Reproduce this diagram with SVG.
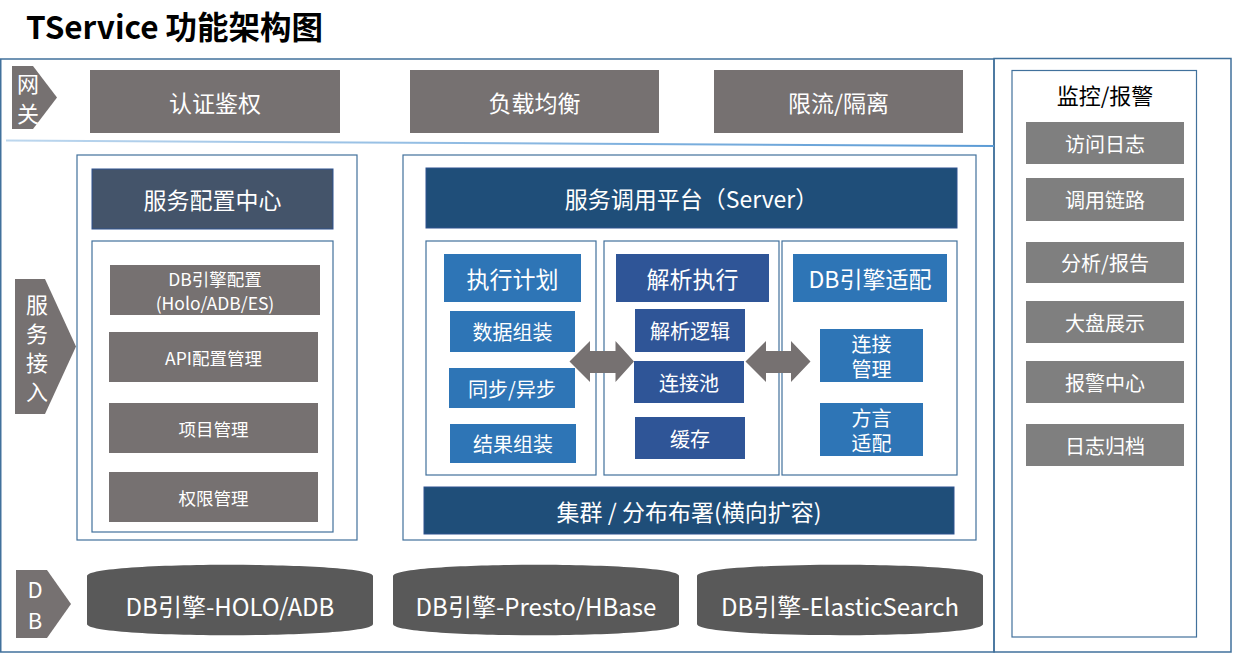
<svg xmlns="http://www.w3.org/2000/svg" width="1233" height="653" viewBox="0 0 1233 653">
<style>
text{font-family:"Noto Sans CJK SC","Noto Sans",sans-serif;text-anchor:middle;dominant-baseline:central;fill:#fff}
.frame{fill:none;stroke:#41719C;stroke-width:1.5}
.thin{fill:none;stroke:#41719C;stroke-width:1.2}
.gray{fill:#767171}
.rgray{fill:#7F7F7F}
.slate{fill:#44546A;stroke:#2F528F;stroke-width:1}
.navy{fill:#1F4E79;stroke:#2F528F;stroke-width:1}
.blue{fill:#2E75B6}
.dblue{fill:#2F5597}
.cyl{fill:#595959}
.t24{font-size:23px}
.t21{font-size:20px}
.t18{font-size:17.5px}
.tc{font-size:24px}
</style>
<defs>
<linearGradient id="sep" x1="0" y1="0" x2="1" y2="0">
<stop offset="0" stop-color="#BDD7EE"/>
<stop offset="1" stop-color="#5B9BD5"/>
</linearGradient>
</defs>
<rect width="1233" height="653" fill="#fff"/>
<text x="26" y="25" style="font-size:31.5px;font-weight:bold;fill:#000;text-anchor:start">TService 功能架构图</text>
<g id="frames">
<rect class="frame" x="0.75" y="59" width="993.25" height="593"/>
<rect class="frame" x="994" y="58.5" width="237" height="593.5"/>
<line x1="6" y1="140.5" x2="994" y2="146" stroke="url(#sep)" stroke-width="2"/>
<line x1="5" y1="554" x2="994" y2="554" stroke="url(#sep)" stroke-width="2"/>
</g>
<g id="label-gateway">
<polygon class="gray" points="12,66 33,66 57,97.5 33,129 12,129"/>
<text x="28" y="82" style="font-size:22px">网</text>
<text x="28" y="112" style="font-size:22px">关</text>
</g>
<g id="label-access">
<polygon class="gray" points="15,279 45,279 76,346.5 45,414 15,414"/>
<text x="37" y="303" style="font-size:22px">服</text>
<text x="37" y="332" style="font-size:22px">务</text>
<text x="37" y="361" style="font-size:22px">接</text>
<text x="37" y="390" style="font-size:22px">入</text>
</g>
<g id="label-db">
<polygon class="gray" points="16,570 47,570 71,604 47,638 16,638"/>
<text x="35" y="588" style="font-size:22px">D</text>
<text x="35" y="619" style="font-size:22px">B</text>
</g>
<g id="gw-auth"><rect class="gray" x="90" y="70" width="250" height="63"/><text x="215" y="101.5" class="t24">认证鉴权</text></g>
<g id="gw-lb"><rect class="gray" x="410" y="70" width="249" height="63"/><text x="534.5" y="101.5" class="t24">负载均衡</text></g>
<g id="gw-limit"><rect class="gray" x="714" y="70" width="249" height="63"/><text x="838.5" y="101.5" class="t24">限流/隔离</text></g>
<g id="config-center">
<rect class="thin" x="77" y="155" width="280" height="385"/>
<rect class="slate" x="92" y="169" width="241" height="60"/>
<text x="212.5" y="199" class="t24">服务配置中心</text>
<rect class="thin" x="92" y="241" width="241" height="291"/>
</g>
<g id="cfg-db"><rect class="gray" x="110" y="265" width="210" height="50"/><text class="t18"><tspan x="215" y="278">DB引擎配置</tspan><tspan x="215" y="302">(Holo/ADB/ES)</tspan></text></g>
<g id="cfg-api"><rect class="gray" x="109" y="332" width="209" height="50"/><text x="213.5" y="357" class="t18">API配置管理</text></g>
<g id="cfg-project"><rect class="gray" x="109" y="403" width="209" height="50"/><text x="213.5" y="428" class="t18">项目管理</text></g>
<g id="cfg-perm"><rect class="gray" x="109" y="472" width="209" height="50"/><text x="213.5" y="497" class="t18">权限管理</text></g>
<g id="server">
<rect class="thin" x="403" y="155" width="573" height="385"/>
<rect class="navy" x="426" y="168" width="531" height="60"/>
<text x="691.5" y="198" class="t24">服务调用平台（Server）</text>
<rect class="thin" x="426" y="241" width="170" height="234"/>
<rect class="thin" x="604" y="241" width="175" height="234"/>
<rect class="thin" x="782" y="241" width="175" height="234"/>
</g>
<g id="exec-plan"><rect class="blue" x="444" y="254" width="137" height="48"/><text x="512.5" y="278" class="t24">执行计划</text></g>
<g id="data-assemble"><rect class="blue" x="450" y="311" width="125" height="41"/><text x="512.5" y="331.5" class="t21">数据组装</text></g>
<g id="sync-async"><rect class="blue" x="449" y="368" width="126" height="40"/><text x="512" y="388" class="t21">同步/异步</text></g>
<g id="result-assemble"><rect class="blue" x="450" y="424" width="126" height="39"/><text x="513" y="443.5" class="t21">结果组装</text></g>
<g id="parse-exec"><rect class="dblue" x="616" y="254" width="153" height="48"/><text x="692.5" y="278" class="t24">解析执行</text></g>
<g id="parse-logic"><rect class="dblue" x="635" y="309" width="110" height="43"/><text x="690" y="330.5" class="t21">解析逻辑</text></g>
<g id="conn-pool"><rect class="dblue" x="634" y="361" width="110" height="42"/><text x="689" y="382" class="t21">连接池</text></g>
<g id="cache"><rect class="dblue" x="635" y="417" width="110" height="42"/><text x="690" y="438" class="t21">缓存</text></g>
<g id="db-adapt"><rect class="blue" x="793" y="254" width="154" height="48"/><text x="870" y="278" class="t24">DB引擎适配</text></g>
<g id="conn-mgr"><rect class="blue" x="820" y="329" width="103" height="53"/><text class="t21"><tspan x="871.5" y="343">连接</tspan><tspan x="871.5" y="368">管理</tspan></text></g>
<g id="dialect"><rect class="blue" x="820" y="403" width="103" height="53"/><text class="t21"><tspan x="871.5" y="417">方言</tspan><tspan x="871.5" y="442">适配</tspan></text></g>
<g id="cluster"><rect class="navy" x="424" y="487" width="530" height="47"/><text x="689" y="510.5" class="t24">集群 / 分布布署(横向扩容)</text></g>
<g id="connectors">
<polygon class="gray" points="569.5,361.5 590,341 590,351 615.5,351 615.5,341 634,361.5 615.5,382 615.5,373 590,373 590,382"/>
<polygon class="gray" points="745.5,361.5 766,341 766,351 791,351 791,341 810.5,361.5 791,382 791,373 766,373 766,382"/>
</g>
<g id="db-holo"><path class="cyl" d="M87,576 C87,561 373,561 373,576 L373,624 C373,639 87,639 87,624 Z"/><text x="230" y="605" class="tc">DB引擎-HOLO/ADB</text></g>
<g id="db-presto"><path class="cyl" d="M393,576 C393,561 679,561 679,576 L679,624 C679,639 393,639 393,624 Z"/><text x="536" y="605" class="tc">DB引擎-Presto/HBase</text></g>
<g id="db-es"><path class="cyl" d="M697,576 C697,561 983,561 983,576 L983,624 C983,639 697,639 697,624 Z"/><text x="840" y="605" class="tc">DB引擎-ElasticSearch</text></g>
<g id="monitor">
<rect class="thin" x="1012" y="70.5" width="184.5" height="566.5"/>
<text x="1105" y="94" style="fill:#000;font-size:22px">监控/报警</text>
</g>
<g id="m-access"><rect class="rgray" x="1026" y="122" width="158" height="42"/><text x="1105" y="143" class="t21">访问日志</text></g>
<g id="m-trace"><rect class="rgray" x="1026" y="178" width="158" height="43"/><text x="1105" y="199.5" class="t21">调用链路</text></g>
<g id="m-report"><rect class="rgray" x="1026" y="242" width="158" height="41"/><text x="1105" y="262.5" class="t21">分析/报告</text></g>
<g id="m-dash"><rect class="rgray" x="1026" y="301" width="158" height="42"/><text x="1105" y="322" class="t21">大盘展示</text></g>
<g id="m-alert"><rect class="rgray" x="1026" y="361" width="158" height="42"/><text x="1105" y="382" class="t21">报警中心</text></g>
<g id="m-archive"><rect class="rgray" x="1026" y="424" width="158" height="42"/><text x="1105" y="445" class="t21">日志归档</text></g>
</svg>
